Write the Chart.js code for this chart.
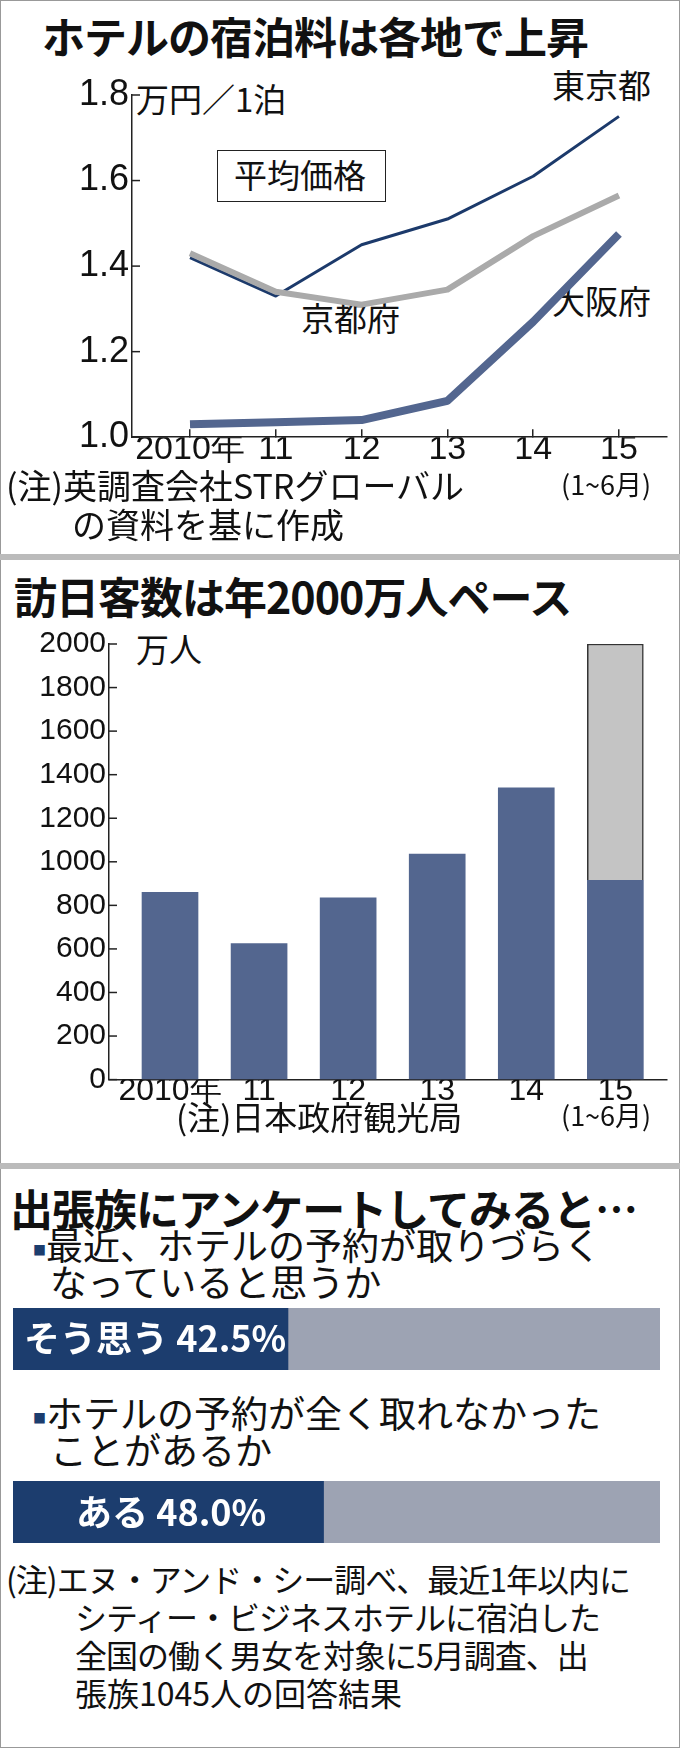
<!DOCTYPE html>
<html><head><meta charset="utf-8">
<script src="https://cdn.jsdelivr.net/npm/chart.js@4.4.0/dist/chart.umd.min.js"></script>
<style>
body{margin:0;background:#fff;}
#wrap{position:relative;width:680px;height:1748px;overflow:hidden;font-family:"Noto Sans CJK JP",sans-serif;color:#111;}
.t{position:absolute;white-space:nowrap;line-height:1;}
.h{font-weight:bold;font-size:43px;letter-spacing:-1px;}
.n{font-size:33px;}
.q{font-size:37px;}
.sep{position:absolute;left:0;width:680px;height:6px;background:#bbb;}
canvas{position:absolute;}
.bx{position:absolute;border:1.5px solid #222;}
</style></head><body>
<div id="wrap">
<div style="position:absolute;left:0;top:0;width:678px;height:1746px;border:1px solid #999;"></div>
<div class="t h" style="left:42px;top:14px">ホテルの宿泊料は各地で上昇</div>
<div class="t n" style="left:136px;top:82px">万円／1泊</div>
<div class="t n" style="left:552px;top:68px">東京都</div>
<div class="bx" style="left:217px;top:150px;width:167px;height:50px"></div>
<div class="t n" style="left:234px;top:158px">平均価格</div>
<div class="t n" style="left:301px;top:301px">京都府</div>
<div class="t n" style="left:552px;top:284px">大阪府</div>
<canvas id="c1" style="left:0;top:60px" width="680" height="410"></canvas>
<div class="t" style="left:561px;top:470px;font-size:27px">(1~6月)</div>
<div class="t n" style="left:6px;top:468px;font-size:34px">(注)英調査会社STRグローバル</div>
<div class="t n" style="left:72px;top:507px;font-size:34px">の資料を基に作成</div>
<div class="sep" style="top:554px"></div>

<div class="t h" style="left:14px;top:574px">訪日客数は年2000万人ペース</div>
<div class="t n" style="left:136px;top:632px">万人</div>
<canvas id="c2" style="left:0;top:620px" width="680" height="490"></canvas>
<div class="t n" style="left:176px;top:1100px">(注)日本政府観光局</div>
<div class="t" style="left:561px;top:1101px;font-size:27px">(1~6月)</div>
<div class="sep" style="top:1163px"></div>

<div class="t h" style="left:10px;top:1186px">出張族にアンケートしてみると…</div>
<div class="t q" style="left:33px;top:1226px"><span style="color:#1c3d6e;font-size:13px;vertical-align:middle">■</span>最近、ホテルの予約が取りづらく</div>
<div class="t q" style="left:50px;top:1263px">なっていると思うか</div>
<canvas id="c3" style="left:13px;top:1308px" width="647" height="62"></canvas>
<div class="t" style="left:24px;top:1318px;font-size:36px;font-weight:bold;color:#fff">そう思う 42.5%</div>
<div class="t q" style="left:33px;top:1394px"><span style="color:#1c3d6e;font-size:13px;vertical-align:middle">■</span>ホテルの予約が全く取れなかった</div>
<div class="t q" style="left:50px;top:1431px">ことがあるか</div>
<canvas id="c4" style="left:13px;top:1481px" width="647" height="62"></canvas>
<div class="t" style="left:76px;top:1492px;font-size:36px;font-weight:bold;color:#fff">ある 48.0%</div>
<div class="t n" style="left:6px;top:1562px;font-size:32px;letter-spacing:-1px">(注)エヌ・アンド・シー調べ、最近1年以内に</div>
<div class="t n" style="left:75px;top:1600px;font-size:32px;letter-spacing:-1px">シティー・ビジネスホテルに宿泊した</div>
<div class="t n" style="left:75px;top:1638px;font-size:32px;letter-spacing:-1px">全国の働く男女を対象に5月調査、出</div>
<div class="t n" style="left:75px;top:1676px;font-size:32px">張族1045人の回答結果</div>
</div>
<script>
// 宿泊料
const years = ["2010年", "11", "12", "13", "14", "15"];
const tokyo = [1.42, 1.33, 1.45, 1.51, 1.61, 1.75];
const kyoto = [1.43, 1.34, 1.31, 1.345, 1.47, 1.565];
const osaka = [1.03, 1.035, 1.04, 1.085, 1.27, 1.475];
const priceTicks = [1.0, 1.2, 1.4, 1.6, 1.8];
// 訪日客数
const visitors = [860, 625, 835, 1035, 1340, 915];
const pace = [0, 0, 0, 0, 0, 2000 - 915];
const visitorTicks = [0, 200, 400, 600, 800, 1000, 1200, 1400, 1600, 1800, 2000];
// アンケート
const survey1 = 42.5;
const survey2 = 48.0;

const fam = "'Liberation Sans Narrow','Liberation Sans',sans-serif";

function pts(arr) { return arr.map((v, i) => ({ x: i, y: v })); }

// inward tick marks
const inTicks = {
    id: "inTicks",
    afterDraw(c) {
        const { ctx, scales: { x, y } } = c;
        ctx.save();
        ctx.strokeStyle = "#222";
        ctx.lineWidth = 1.5;
        y.ticks.forEach(t => {
            const py = y.getPixelForValue(t.value);
            ctx.beginPath(); ctx.moveTo(x.left, py); ctx.lineTo(x.left + 8, py); ctx.stroke();
        });
        ctx.restore();
    }
};

function xLabels(min, max, size) {
    return {
        type: "linear", min: min, max: max, offset: false,
        afterBuildTicks: s => { s.ticks = years.map((_, i) => ({ value: i })); },
        ticks: { callback: v => years[v], color: "#111", font: { family: fam, size: size }, padding: 0, autoSkip: false, maxRotation: 0 },
        grid: { drawOnChartArea: false, color: "#222", tickLength: -8, lineWidth: 1.5, offset: false },
        border: { color: "#222", width: 1.5 }
    };
}

new Chart(document.getElementById("c1"), {
    type: "line",
    data: {
        datasets: [
            { data: pts(osaka), borderColor: "#53668f", borderWidth: 8 },
            { data: pts(kyoto), borderColor: "#aaaaaa", borderWidth: 6 },
            { data: pts(tokyo), borderColor: "#1c3a6b", borderWidth: 3 }
        ]
    },
    options: {
        responsive: false, animation: false,
        layout: { padding: { top: 35, right: 13 } },
        elements: { point: { radius: 0 }, line: { tension: 0, borderJoinStyle: "round" } },
        plugins: { legend: { display: false }, tooltip: { enabled: false } },
        scales: {
            x: xLabels(-0.676, 5.56, 34),
            y: {
                min: 1.0, max: 1.8,
                afterBuildTicks: s => { s.ticks = priceTicks.map(v => ({ value: v })); },
                afterFit: s => { s.width = 132; },
                ticks: { callback: v => v.toFixed(1), color: "#111", font: { family: fam, size: 36 }, padding: 3 },
                grid: { drawOnChartArea: false, drawTicks: false },
                border: { color: "#222", width: 1.5 }
            }
        }
    },
    plugins: [inTicks]
});

const x2 = xLabels(-0.685, 5.58, 32);
x2.stacked = true;
new Chart(document.getElementById("c2"), {
    type: "bar",
    data: {
        datasets: [
            { data: pts(visitors), backgroundColor: "#53668f" },
            { data: pts(pace), backgroundColor: "#c4c4c4", borderColor: "#333", borderWidth: 1.5, borderDash: [4, 3] }
        ]
    },
    options: {
        responsive: false, animation: false,
        layout: { padding: { top: 24, right: 13 } },
        datasets: { bar: { barThickness: 56, grouped: false } },
        plugins: { legend: { display: false }, tooltip: { enabled: false } },
        scales: {
            x: x2,
            y: {
                stacked: true, min: 0, max: 2000,
                afterBuildTicks: s => { s.ticks = visitorTicks.map(v => ({ value: v })); },
                afterFit: s => { s.width = 109; },
                ticks: { callback: v => String(v), color: "#111", font: { family: fam, size: 30 }, padding: 3, autoSkip: false },
                grid: { drawOnChartArea: false, drawTicks: false },
                border: { color: "#222", width: 1.5 }
            }
        }
    },
    plugins: [inTicks]
});

function surveyBar(id, v) {
    new Chart(document.getElementById(id), {
        type: "bar",
        data: {
            labels: [""],
            datasets: [
                { data: [v], backgroundColor: "#1c3d6e" },
                { data: [100 - v], backgroundColor: "#9da3b3" }
            ]
        },
        options: {
            indexAxis: "y", responsive: false, animation: false,
            datasets: { bar: { barPercentage: 1, categoryPercentage: 1 } },
            plugins: { legend: { display: false }, tooltip: { enabled: false } },
            scales: {
                x: { stacked: true, min: 0, max: 100, display: false },
                y: { stacked: true, display: false }
            }
        }
    });
}
surveyBar("c3", survey1);
surveyBar("c4", survey2);
</script>
</body></html>
